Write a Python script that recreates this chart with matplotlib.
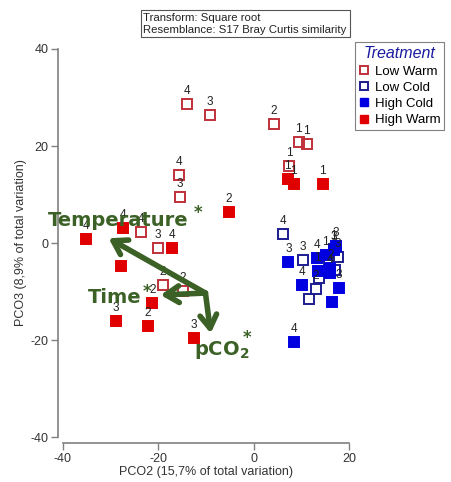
import matplotlib
matplotlib.use('Agg')
import matplotlib.pyplot as plt
from matplotlib.lines import Line2D

plt.rcParams['font.family'] = ['Liberation Sans', 'DejaVu Sans']
plt.rcParams['axes.unicode_minus'] = False

# PCO scores: (PCO2, PCO3) and the time label for each sample
low_warm_x = [-14.0, -9.2, -15.7, -15.5, 4.2, 9.4, 11.1, 7.5, -23.7, -20.1, -19.1, -14.9]
low_warm_y = [28.7, 26.4, 14.0, 9.5, 24.5, 20.8, 20.4, 15.9, 2.3, -1.0, -8.7, -9.9]
low_warm_lab = ['4', '3', '4', '3', '2', '1', '1', '1', '4', '3', '2', '2']

high_warm_x = [-5.2, -35.2, -27.3, -27.9, -17.2, -21.2, -28.9, -22.2, -12.6, 7.1, 8.4, 14.5]
high_warm_y = [6.4, 0.8, 3.1, -4.7, -1.0, -12.4, -16.1, -17.1, -19.6, 13.2, 12.2, 12.2]
high_warm_lab = ['2', '4', '4', '', '4', '2', '3', '2', '3', '1', '1', '1']

low_cold_x = [6.1, 10.3, 17.6, 16.8, 13.8, 13.0, 11.5, 15.7, 17.0]
low_cold_y = [1.9, -3.5, -2.9, -1.2, -7.2, -9.5, -11.5, -3.9, -5.5]
low_cold_lab = ['4', '3', '3', '1', '', '2', '', '', '']

high_cold_x = [7.3, 13.2, 15.1, 17.2, 16.1, 15.9, 13.4, 10.1, 17.8, 16.4, 8.4, 16.8]
high_cold_y = [-3.9, -3.1, -2.5, -0.6, -5.2, -6.2, -5.8, -8.7, -9.3, -12.2, -20.4, -1.4]
high_cold_lab = ['3', '4', '1', '3', '2', '4', '1', '4', '3', '', '4', '3']

# vectors (origin and tips)
vec_origin = (-10.1, -10.3)
vec_names = ['Temperature', 'Time', 'pCO2']
vec_tips = [(-30.4, 1.0), (-19.5, -10.7), (-9.0, -18.6)]

fig = plt.figure(figsize=(4.51, 4.82), dpi=100)
# bottom spine sits at y=-41.2, left spine at x=-41
ax = fig.add_axes([0.1286, 0.0809, 0.656, 0.8326])
ax.set_xlim(-41, 21)
ax.set_ylim(-41.2, 41.5)

red_open = '#c0303a'
red_fill = '#e00000'
blue_fill = '#0000e0'
blue_open = '#1c1c90'

series = [
    (low_warm_x, low_warm_y, low_warm_lab, 'none', red_open),
    (low_cold_x, low_cold_y, low_cold_lab, 'none', blue_open),
    (high_cold_x, high_cold_y, high_cold_lab, blue_fill, blue_fill),
    (high_warm_x, high_warm_y, high_warm_lab, red_fill, red_fill),
]
for xs, ys, labs, fc, ec in series:
    ax.plot(xs, ys, 's', ms=6.5, mfc=fc, mec=ec, mew=1.4, ls='none', clip_on=False, zorder=3)
    for x, y, t in zip(xs, ys, labs):
        ax.annotate(t, (x, y), xytext=(0, 5), textcoords='offset points',
                    ha='center', va='bottom', fontsize=8.5, color='#222222', zorder=4)

green = '#3c6126'
for tip in vec_tips:
    ax.annotate('', xy=tip, xytext=vec_origin,
                arrowprops=dict(arrowstyle='->,head_length=0.95,head_width=0.6',
                                color=green, lw=4, shrinkA=0, shrinkB=0),
                zorder=5)

bold = dict(family='DejaVu Sans', weight='bold', color=green, fontsize=14, va='center', zorder=6)
ax.text(-43.2, 4.7, 'Temperature', ha='left', clip_on=False, **bold)
ax.text(-34.8, -11.3, 'Time', ha='left', clip_on=False, **bold)
ax.text(-12.6, -22.1, r'pCO$_\mathbf{2}$', ha='left', clip_on=False, **bold)
for sx, sy in [(-11.6, 6.3), (-22.3, -10.0), (-1.4, -19.5)]:
    ax.text(sx, sy, '*', ha='center', va='center', fontsize=12, color=green,
            family='DejaVu Sans', weight='bold', zorder=6)

for s in ['top', 'right']:
    ax.spines[s].set_visible(False)
ax.spines['left'].set_bounds(-40, 40)
ax.spines['bottom'].set_bounds(-40, 20)
for s in ['left', 'bottom']:
    ax.spines[s].set_color('#808080')
    ax.spines[s].set_linewidth(1.2)
ax.set_xticks([-40, -20, 0, 20])
ax.set_yticks([-40, -20, 0, 20, 40])
ax.tick_params(colors='#808080', labelcolor='#333333', labelsize=9, length=5, width=1, pad=2)
ax.set_xlabel('PCO2 (15,7% of total variation)', fontsize=9, color='#333333', labelpad=1)
ax.set_ylabel('PCO3 (8,9% of total variation)', fontsize=9, color='#333333', labelpad=2)

fig.text(0.318, 0.951, 'Transform: Square root\nResemblance: S17 Bray Curtis similarity',
         ha='left', va='center', fontsize=8.2, color='#222222', linespacing=1.25,
         bbox=dict(boxstyle='square,pad=0.25', fc='white', ec='#555555', lw=0.8))

handles = [
    Line2D([], [], marker='s', ls='none', ms=6, mfc='none', mec=red_open, mew=1.4),
    Line2D([], [], marker='s', ls='none', ms=6, mfc='none', mec=blue_open, mew=1.4),
    Line2D([], [], marker='s', ls='none', ms=6, mfc=blue_fill, mec=blue_fill),
    Line2D([], [], marker='s', ls='none', ms=6, mfc=red_fill, mec=red_fill),
]
leg = fig.legend(handles, ['Low Warm', 'Low Cold', 'High Cold', 'High Warm'],
                 loc='upper left', bbox_to_anchor=(0.787, 0.912), fontsize=9.5,
                 title='Treatment', fancybox=False, edgecolor='#808080',
                 handlelength=0.8, handletextpad=0.4, labelspacing=0.3,
                 borderpad=0.3, borderaxespad=0, framealpha=1)
leg.get_title().set_fontstyle('italic')
leg.get_title().set_color('#1a1aa0')
leg.get_title().set_fontsize(11.5)
leg.get_frame().set_linewidth(0.8)

fig.savefig('out.png', dpi=100)
